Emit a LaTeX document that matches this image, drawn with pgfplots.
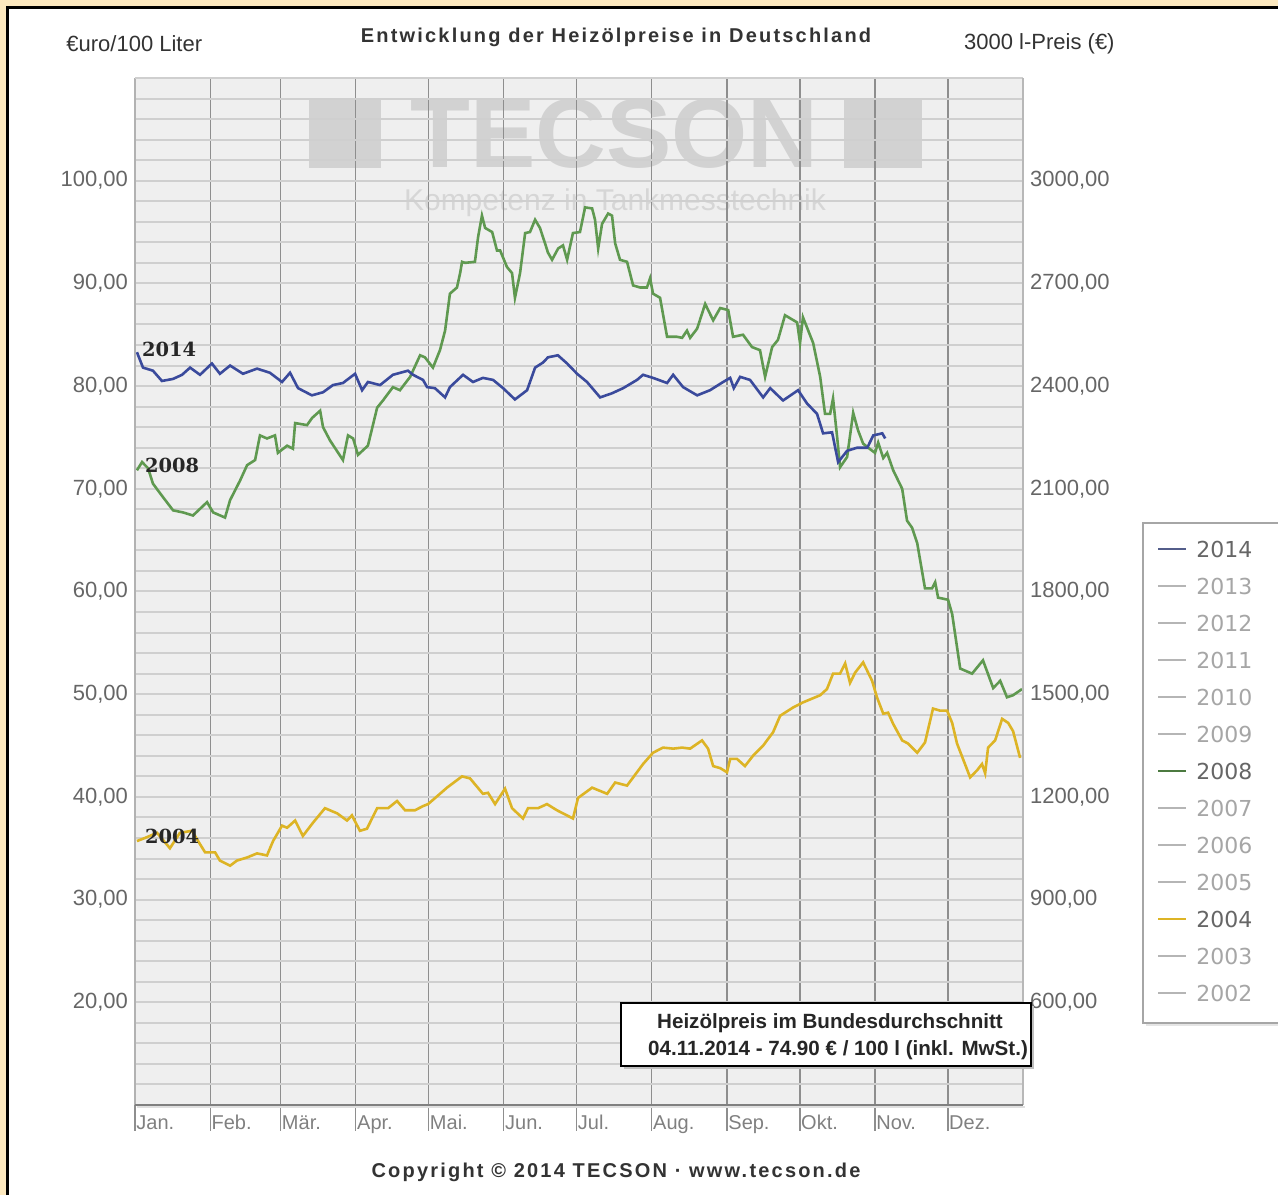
\documentclass[border=0pt]{standalone}
\usepackage{fontspec}
\setmainfont{Liberation Sans}
\newfontfamily\dejavu{DejaVu Sans}
\newfontfamily\dejaserif{DejaVu Serif}
\newfontfamily\spaced[LetterSpace=11]{Liberation Sans}
\usepackage{pgfplots}
\pgfplotsset{compat=1.18}

\definecolor{framebg}{HTML}{FDE9BF}
\definecolor{plotbg}{HTML}{EFEFEF}
\definecolor{hgrid}{HTML}{CFCFCF}
\definecolor{vgrid}{HTML}{8E8E8E}
\definecolor{c2014}{HTML}{3A4A9C}
\definecolor{c2008}{HTML}{5F9950}
\definecolor{c2004}{HTML}{DDB425}
\definecolor{wm}{HTML}{D2D2D2}
\definecolor{ticktext}{HTML}{666666}
\definecolor{leggray}{HTML}{B5B5B5}

\pgfplotsset{
  numfmt/.style={/pgf/number format/.cd, fixed, fixed zerofill, precision=2,
    use comma, 1000 sep={}, assume math mode=true},
}

\begin{document}
\begin{tikzpicture}
\begin{scope}[x=0.5pt,y=0.5pt]
% outer frame
\fill[framebg] (0,0) rectangle (7,1195);
\fill[framebg] (0,1188) rectangle (1278,1195);
\draw[black, line width=1.1pt] (7.5,0) -- (7.5,1187.5) -- (1278,1187.5);

% plot background and watermark
\fill[plotbg] (135,90) rectangle (1023,1117);
\fill[wm] (309,1027) rectangle (381,1095);
\fill[wm] (844,1027) rectangle (922,1095);
\node[wm, font=\fontsize{49}{49}\selectfont\bfseries, inner sep=0pt] at (614.5,1061) {TECSON};
\node[color=black!16, font=\fontsize{15}{15}\selectfont, inner sep=0pt] at (615,992) {Kompetenz in Tankmesstechnik};
\end{scope}

% main axis (Euro / 100 l)
\begin{axis}[
  at={(67.5pt,45pt)}, anchor=south west, scale only axis,
  width=444pt, height=513.5pt,
  xmin=0, xmax=366, ymin=10, ymax=110,
  axis line style={draw=none},
  xtick={0,31,60,91,121,152,182,213,244,274,305,335},
  xticklabels={Jan.,Feb.,Mär.,Apr.,Mai.,Jun.,Jul.,Aug.,Sep.,Okt.,Nov.,Dez.},
  xtick style={draw=none},
  xmajorgrids, major x grid style={vgrid, line width=0.7pt},
  xticklabel style={anchor=north west, inner sep=0pt, xshift=0.5pt, yshift=-5pt,
    font=\fontsize{10}{12}\selectfont, text=black!50},
  ytick={20,30,...,100},
  minor ytick={12,14,...,108},
  ytick style={draw=none}, minor tick style={draw=none},
  ymajorgrids, yminorgrids,
  major y grid style={hgrid, line width=1pt},
  minor y grid style={hgrid, line width=1pt},
  yticklabel style={font=\fontsize{11}{12}\selectfont, text=ticktext, numfmt},
  clip=false,
]
\addplot[c2004, line width=1.3pt] coordinates {
(0.8,35.7)(4.1,36.0)(9.1,36.5)(14.4,35.0)(18.5,36.5)(23.5,36.7)(26.0,35.7)(28.9,34.6)
(33.0,34.6)(35.0,33.8)(39.2,33.3)(42.0,33.8)(46.2,34.1)(50.3,34.5)(54.4,34.3)(56.9,35.7)
(60.6,37.2)(62.7,37.0)(66.0,37.7)(69.2,36.2)(73.4,37.5)(78.3,38.9)(83.3,38.4)(87.4,37.7)
(89.4,38.2)(92.7,36.7)(95.6,36.9)(99.8,38.9)(104.3,38.9)(108.0,39.6)(111.3,38.7)(115.4,38.7)
(118.7,39.1)(120.8,39.3)(128.6,40.9)(134.8,42.0)(138.1,41.8)(143.4,40.3)(145.5,40.4)(148.4,39.3)
(152.5,40.8)(155.4,38.9)(159.9,37.9)(162.0,38.9)(166.1,38.9)(169.8,39.3)(173.9,38.7)(180.5,37.9)
(182.6,39.9)(188.4,40.9)(194.6,40.3)(197.9,41.4)(202.8,41.1)(209.4,43.2)(213.5,44.3)(217.6,44.8)
(221.8,44.7)(225.5,44.8)(228.8,44.7)(233.7,45.5)(236.2,44.7)(238.3,43.0)(241.2,42.8)(244.0,42.4)
(245.3,43.7)(248.1,43.7)(251.4,43.0)(254.7,44.0)(258.9,45.0)(263.0,46.3)(265.9,47.9)(271.2,48.7)
(275.3,49.2)(282.4,49.9)(285.2,50.5)(287.7,52.0)(290.6,52.0)(292.7,53.0)(294.7,51.1)(296.8,52.1)
(300.1,53.1)(303.8,51.3)(305.8,49.7)(308.4,48.1)(310.4,48.2)(312.5,47.1)(316.2,45.5)(318.6,45.2)
(322.4,44.3)(325.6,45.3)(328.9,48.6)(331.8,48.4)(334.7,48.4)(336.8,47.2)(338.8,45.2)(344.2,41.9)
(347.1,42.6)(349.1,43.2)(350.4,42.3)(351.6,44.8)(354.5,45.5)(357.4,47.6)(359.9,47.2)(361.9,46.4)
(364.8,43.8)
};
\addplot[c2008, line width=1.3pt] coordinates {
(0.8,71.8)(2.9,72.6)(5.4,72.0)(7.4,70.5)(11.5,69.2)(15.7,67.9)(19.8,67.7)(23.9,67.4)
(29.7,68.7)(32.2,67.7)(37.1,67.2)(39.2,68.9)(43.3,70.8)(46.2,72.3)(49.5,72.8)(51.5,75.2)
(54.4,74.9)(57.7,75.2)(58.9,73.5)(62.7,74.2)(65.1,73.9)(66.0,76.4)(70.9,76.2)(73.0,76.9)
(76.3,77.6)(77.5,76.0)(80.4,74.7)(85.7,72.8)(87.8,75.2)(89.9,74.9)(91.9,73.3)(96.0,74.2)
(99.8,77.9)(102.2,78.6)(106.3,79.9)(109.2,79.6)(113.4,80.9)(117.5,83.0)(119.5,82.8)(122.8,81.8)
(125.7,83.5)(127.8,85.4)(129.8,89.0)(132.7,89.6)(134.0,91.0)(134.8,92.1)(136.0,92.0)(140.1,92.1)
(141.4,94.5)(143.0,96.6)(144.3,95.4)(147.2,95.0)(149.2,93.2)(150.5,93.2)(153.3,91.6)(155.4,91.0)
(156.6,88.6)(158.7,91.0)(160.8,94.9)(162.8,95.0)(164.9,96.2)(166.9,95.4)(169.0,93.9)(170.2,93.0)
(171.9,92.3)(174.4,93.4)(176.4,93.7)(178.1,92.3)(180.5,94.9)(183.4,95.0)(185.5,97.4)(188.4,97.3)
(189.6,96.2)(190.9,93.4)(192.5,95.8)(195.0,96.8)(196.6,96.6)(197.9,93.9)(199.9,92.3)(202.8,92.1)
(205.3,89.8)(208.2,89.6)(211.0,89.6)(212.3,90.5)(213.5,89.0)(216.4,88.6)(219.3,84.8)(223.4,84.8)
(225.5,84.7)(227.5,85.4)(228.8,84.7)(231.7,85.6)(235.0,88.0)(238.3,86.4)(241.2,87.6)(244.5,87.4)
(246.5,84.8)(250.6,85.0)(254.3,83.8)(257.6,83.5)(259.7,80.9)(262.6,83.8)(265.0,84.5)(267.9,86.9)
(272.9,86.2)(274.1,84.2)(275.3,86.7)(279.5,84.2)(282.4,80.9)(284.4,77.3)(286.5,77.3)(287.7,78.8)
(289.4,75.0)(290.6,72.1)(293.5,73.1)(296.0,77.4)(298.0,75.7)(300.1,74.4)(302.2,74.0)(305.0,73.5)
(306.3,74.5)(308.4,73.0)(310.0,73.5)(312.5,71.8)(316.2,70.0)(318.2,66.9)(320.3,66.2)(322.4,64.7)
(325.6,60.3)(328.5,60.3)(329.8,60.9)(331.0,59.4)(335.1,59.2)(336.8,57.8)(340.1,52.5)(345.0,52.0)
(349.5,53.3)(353.7,50.6)(356.6,51.3)(359.4,49.7)(361.9,49.9)(365.6,50.5)
};
\addplot[c2014, line width=1.3pt] coordinates {
(0.8,83.3)(3.3,81.8)(7.4,81.5)(11.1,80.5)(15.7,80.7)(19.4,81.1)(22.7,81.8)(26.8,81.1)
(31.7,82.2)(35.0,81.2)(39.2,82.0)(44.5,81.2)(50.3,81.7)(55.6,81.3)(60.6,80.4)(63.9,81.3)
(67.2,79.8)(72.9,79.1)(77.5,79.4)(81.6,80.1)(85.7,80.3)(90.7,81.2)(93.6,79.6)(96.0,80.4)
(101.0,80.1)(106.3,81.1)(112.5,81.5)(114.6,81.1)(118.7,80.6)(120.4,79.9)(123.6,79.8)(127.8,78.9)
(129.8,79.9)(135.2,81.1)(139.3,80.4)(143.4,80.8)(147.6,80.6)(151.7,79.8)(156.6,78.7)(161.6,79.6)
(164.9,81.8)(168.2,82.3)(170.2,82.8)(174.3,83.0)(178.1,82.2)(182.2,81.2)(186.3,80.4)(191.7,78.9)
(196.6,79.3)(201.2,79.8)(206.9,80.6)(209.4,81.1)(213.5,80.8)(219.3,80.3)(221.8,81.1)(225.9,79.9)
(231.7,79.1)(237.0,79.6)(242.4,80.4)(245.3,80.8)(246.8,79.8)(249.4,80.9)(253.5,80.6)(258.9,78.9)
(261.8,79.8)(267.1,78.6)(273.3,79.6)(277.0,78.3)(281.1,77.3)(283.6,75.4)(287.3,75.5)(289.8,72.6)
(293.5,73.7)(297.6,74.0)(301.8,74.0)(304.3,75.2)(308.0,75.4)(309.2,74.9)
};
% month tick marks below the axis
\pgfplotsinvokeforeach{0,31,60,91,121,152,182,213,244,274,305,335}{
  \draw[vgrid, line width=0.7pt] (axis cs:#1,10) -- ++(0pt,-13pt);
}
\end{axis}

% right axis (3000 l price)
\begin{axis}[
  at={(67.5pt,45pt)}, anchor=south west, scale only axis,
  width=444pt, height=513.5pt,
  xmin=0, xmax=366, ymin=300, ymax=3300,
  axis x line=none, axis y line*=right,
  axis line style={draw=none},
  ytick={600,900,...,3000},
  ytick style={draw=none},
  yticklabel style={font=\fontsize{11}{12}\selectfont, text=ticktext, numfmt},
]
\addplot[draw=none] coordinates {(0,300)};
\end{axis}

\begin{scope}[x=0.5pt,y=0.5pt]
% axis border lines
\draw[black!30, line width=0.6pt] (135,90) -- (135,1117);
\draw[hgrid, line width=1pt] (135,1117) -- (1023,1117);
\draw[black!28, line width=1pt] (1023,90) -- (1023,1117);
\draw[black!12, line width=1pt] (137,88) -- (1025,88);
\draw[black!50, line width=1pt] (135,90) -- (1023,90);

% series labels
\node[font=\dejaserif\bfseries\fontsize{9.7}{10}\selectfont, text=black!85] at (169,846) {2014};
\node[font=\dejaserif\bfseries\fontsize{9.7}{10}\selectfont, text=black!85] at (172,730) {2008};
\node[font=\dejaserif\bfseries\fontsize{9.7}{10}\selectfont, text=black!85] at (172,359) {2004};

% headings
\node[anchor=west, inner sep=0pt, font=\fontsize{11}{12}\selectfont, text=black!80] at (66,1151) {€uro/100 Liter};
\node[inner sep=0pt, font=\spaced\bfseries\fontsize{10}{11}\selectfont, text=black!80] at (616,1158) {Entwicklung der Heizölpreise in Deutschland};
\node[anchor=east, inner sep=0pt, font=\fontsize{11}{12}\selectfont, text=black!80] at (1115,1151) {3000 l-Preis (€)};
\node[inner sep=0pt, font=\spaced\bfseries\fontsize{10}{11}\selectfont, text=black!80] at (616,23) {Copyright © 2014 TECSON · www.tecson.de};

% legend
\fill[black!10] (1146,169) rectangle (1295,669);
\draw[black!35, fill=white, line width=0.7pt] (1143,172) rectangle (1292,672);
\foreach \yr/\lc/\tc [count=\i from 0] in {
  2014/c2014!70!black!80/black!60, 2013/leggray/black!35, 2012/leggray/black!35,
  2011/leggray/black!35, 2010/leggray/black!35, 2009/leggray/black!35,
  2008/c2008!80!black/black!60, 2007/leggray/black!35, 2006/leggray/black!35,
  2005/leggray/black!35, 2004/c2004/black!60, 2003/leggray/black!35, 2002/leggray/black!35} {
  \draw[\lc, line width=1.3pt] (1158,{646-37*\i}) -- (1186,{646-37*\i});
  \node[anchor=west, inner sep=0pt, font=\dejavu\fontsize{11}{12}\selectfont, text=\tc] at (1196,{646-37*\i}) {\yr};
}

% info box
\fill[black!25] (624,126) rectangle (1034,189);
\draw[black, fill=white, line width=1pt] (621,129) rectangle (1031,192);
\node[inner sep=0pt, font=\bfseries\fontsize{10.3}{12}\selectfont, text=black!85] at (830,172) {Heizölpreis im Bundesdurchschnitt};
\node[inner sep=0pt, font=\bfseries\fontsize{10.3}{12}\selectfont, text=black!85] at (838,145) {04.11.2014 - 74.90 € / 100 l (inkl. MwSt.)};

% page size = reference
\pgfresetboundingbox
\path[use as bounding box] (0,0) rectangle (1278,1195);
\end{scope}
\end{tikzpicture}
\end{document}
